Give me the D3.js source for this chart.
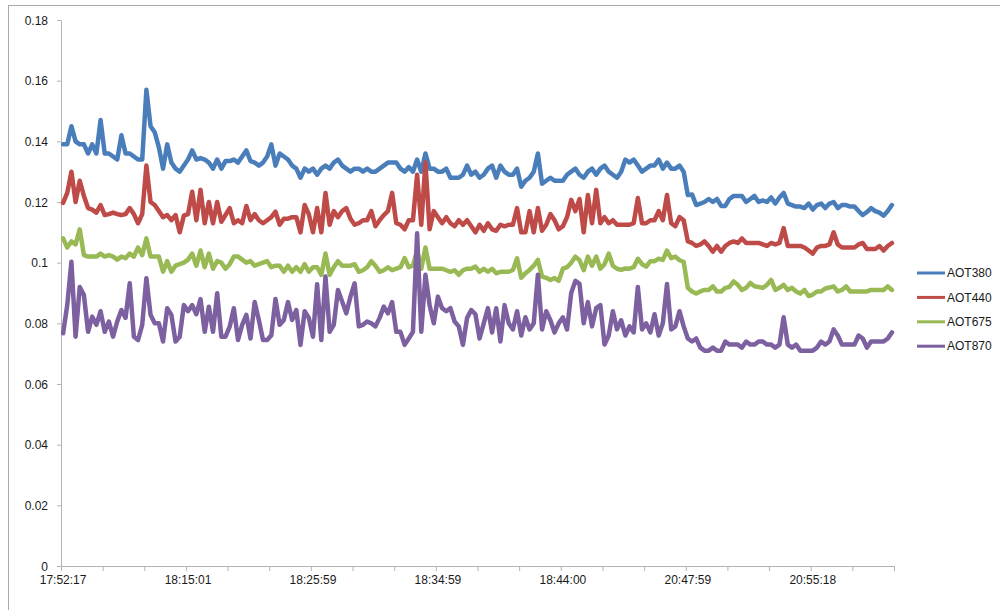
<!DOCTYPE html>
<html>
<head>
	<title>AOT chart</title>
	<style type="text/css">
		body { margin: 0; background: white; }
		svg { display: block; font-family: "Liberation Sans", Arial, sans-serif; }
		.tick text, .x-label, .legend-txt { font-size: 12px; fill: #1a1a1a; }
		.axis path, .axis line { stroke: #b4b4b4; }
		.series { fill: none; stroke-width: 4.5; stroke-linejoin: round; stroke-linecap: round; }
	</style>
</head>
<body>
<svg id="chart"></svg>

<script src="https://d3js.org/d3.v7.min.js"></script>
<script type="text/javascript">

// series names and colours
var names = ["AOT380", "AOT440", "AOT675", "AOT870"];
var colors = ["#4a7ebb", "#be4b48", "#98b954", "#7d60a0"];

// category labels shown on the x axis, and the category index they sit on
var xLabels = ["17:52:17", "18:15:01", "18:25:59", "18:34:59", "18:44:00", "20:47:59", "20:55:18"];
var xLabelIdx = [0, 30, 60, 90, 120, 150, 180];

var yTicks = [0, 0.02, 0.04, 0.06, 0.08, 0.1, 0.12, 0.14, 0.16, 0.18];

var aot380 = [
	0.139, 0.139, 0.145, 0.140, 0.139, 0.139, 0.136, 0.139, 0.136, 0.147,
	0.136, 0.136, 0.135, 0.134, 0.142, 0.136, 0.136, 0.135, 0.134, 0.134,
	0.157, 0.145, 0.143, 0.138, 0.131, 0.139, 0.133, 0.131, 0.130, 0.132,
	0.134, 0.137, 0.134, 0.1345, 0.134, 0.133, 0.131, 0.134, 0.131, 0.1335,
	0.1335, 0.134, 0.133, 0.135, 0.137, 0.1335, 0.133, 0.132, 0.133, 0.135,
	0.139, 0.132, 0.136, 0.135, 0.134, 0.132, 0.131, 0.128, 0.131, 0.130,
	0.131, 0.129, 0.131, 0.132, 0.131, 0.133, 0.134, 0.132, 0.131, 0.130,
	0.131, 0.131, 0.130, 0.131, 0.130, 0.130, 0.131, 0.132, 0.133, 0.133,
	0.133, 0.131, 0.130, 0.1315, 0.130, 0.134, 0.130, 0.136, 0.131, 0.131,
	0.130, 0.130, 0.131, 0.128, 0.128, 0.128, 0.129, 0.132, 0.129, 0.130,
	0.128, 0.129, 0.131, 0.132, 0.128, 0.132, 0.130, 0.129, 0.129, 0.131,
	0.125, 0.127, 0.128, 0.130, 0.136, 0.126, 0.127, 0.128, 0.127, 0.127,
	0.127, 0.129, 0.130, 0.131, 0.129, 0.128, 0.130, 0.131, 0.129, 0.131,
	0.132, 0.130, 0.129, 0.128, 0.130, 0.134, 0.133, 0.134, 0.132, 0.130,
	0.131, 0.132, 0.132, 0.134, 0.131, 0.133, 0.131, 0.131, 0.132, 0.130,
	0.1223, 0.1225, 0.119, 0.1195, 0.120, 0.121, 0.120, 0.121, 0.1187, 0.1187,
	0.121, 0.122, 0.122, 0.122, 0.120, 0.121, 0.122, 0.120, 0.1205, 0.120,
	0.1215, 0.1195, 0.1215, 0.123, 0.1195, 0.119, 0.1185, 0.1185, 0.118, 0.1195,
	0.1175, 0.119, 0.1195, 0.118, 0.1195, 0.120, 0.118, 0.119, 0.119, 0.1185,
	0.1185, 0.117, 0.1157, 0.1167, 0.118, 0.117, 0.1165, 0.1155, 0.117, 0.119
];

var aot440 = [
	0.1197, 0.123, 0.130, 0.120, 0.127, 0.122, 0.118, 0.1175, 0.1165, 0.119,
	0.1157, 0.116, 0.1165, 0.116, 0.1157, 0.116, 0.118, 0.116, 0.113, 0.116,
	0.132, 0.120, 0.119, 0.117, 0.115, 0.1157, 0.114, 0.1157, 0.110, 0.1155,
	0.116, 0.1234, 0.114, 0.124, 0.113, 0.120, 0.113, 0.120, 0.1135, 0.1157,
	0.118, 0.113, 0.114, 0.113, 0.1187, 0.114, 0.116, 0.114, 0.113, 0.114,
	0.115, 0.1168, 0.1125, 0.1145, 0.1145, 0.115, 0.115, 0.110, 0.119, 0.116,
	0.110, 0.118, 0.110, 0.123, 0.1125, 0.117, 0.115, 0.117, 0.118, 0.1145,
	0.1125, 0.113, 0.114, 0.114, 0.117, 0.112, 0.114, 0.1157, 0.117, 0.123,
	0.113, 0.1125, 0.111, 0.114, 0.114, 0.129, 0.1125, 0.133, 0.111, 0.117,
	0.115, 0.113, 0.115, 0.113, 0.112, 0.114, 0.1125, 0.114, 0.112, 0.110,
	0.1125, 0.1105, 0.113, 0.111, 0.1105, 0.1125, 0.112, 0.1125, 0.1125, 0.118,
	0.110, 0.110, 0.117, 0.110, 0.118, 0.1105, 0.1125, 0.116, 0.114, 0.111,
	0.112, 0.115, 0.1207, 0.117, 0.121, 0.110, 0.1223, 0.113, 0.124, 0.113,
	0.115, 0.113, 0.114, 0.1125, 0.1125, 0.1125, 0.1125, 0.113, 0.1213, 0.113,
	0.113, 0.114, 0.114, 0.117, 0.114, 0.1223, 0.113, 0.112, 0.115, 0.114,
	0.107, 0.1065, 0.1055, 0.106, 0.107, 0.1055, 0.1036, 0.1055, 0.1036, 0.1055,
	0.1065, 0.107, 0.1065, 0.108, 0.1065, 0.1065, 0.1065, 0.1065, 0.106, 0.1055,
	0.1065, 0.106, 0.1065, 0.1114, 0.1055, 0.1055, 0.1055, 0.1055, 0.105, 0.104,
	0.103, 0.105, 0.1055, 0.1055, 0.106, 0.110, 0.106, 0.105, 0.105, 0.105,
	0.105, 0.106, 0.1065, 0.1045, 0.1045, 0.1045, 0.1055, 0.104, 0.1055, 0.1065
];

var aot675 = [
	0.108, 0.105, 0.107, 0.106, 0.111, 0.1025, 0.102, 0.102, 0.102, 0.103,
	0.102, 0.1025, 0.102, 0.101, 0.102, 0.1015, 0.103, 0.102, 0.105, 0.1025,
	0.108, 0.102, 0.102, 0.102, 0.097, 0.1005, 0.097, 0.099, 0.0995, 0.100,
	0.101, 0.103, 0.099, 0.104, 0.0985, 0.103, 0.098, 0.1005, 0.100, 0.098,
	0.0995, 0.102, 0.102, 0.101, 0.100, 0.1005, 0.099, 0.0995, 0.100, 0.1005,
	0.0985, 0.099, 0.099, 0.097, 0.099, 0.097, 0.0985, 0.097, 0.0995, 0.097,
	0.0985, 0.0985, 0.096, 0.103, 0.096, 0.0985, 0.1005, 0.099, 0.099, 0.099,
	0.0995, 0.097, 0.0975, 0.0985, 0.1005, 0.099, 0.097, 0.0975, 0.0985, 0.0975,
	0.098, 0.0985, 0.1015, 0.0985, 0.099, 0.104, 0.098, 0.105, 0.098, 0.098,
	0.098, 0.098, 0.0975, 0.097, 0.0975, 0.096, 0.0975, 0.098, 0.098, 0.0987,
	0.097, 0.098, 0.097, 0.098, 0.0965, 0.097, 0.097, 0.097, 0.0976, 0.1014,
	0.095, 0.0965, 0.0976, 0.099, 0.1009, 0.0954, 0.095, 0.0943, 0.0949, 0.094,
	0.098, 0.0985, 0.100, 0.102, 0.1008, 0.0975, 0.102, 0.099, 0.102, 0.098,
	0.0995, 0.103, 0.099, 0.098, 0.0976, 0.0981, 0.098, 0.0985, 0.1013, 0.0995,
	0.0987, 0.1005, 0.1005, 0.1013, 0.1009, 0.104, 0.1015, 0.102, 0.1008, 0.1003,
	0.0917, 0.0905, 0.0898, 0.0905, 0.091, 0.091, 0.0922, 0.0905, 0.0905, 0.0917,
	0.092, 0.0938, 0.0927, 0.091, 0.0917, 0.0933, 0.0922, 0.092, 0.0917, 0.0927,
	0.0943, 0.091, 0.0917, 0.0927, 0.091, 0.0917, 0.0905, 0.0898, 0.091, 0.089,
	0.0895, 0.0905, 0.0905, 0.0915, 0.0918, 0.0922, 0.0905, 0.091, 0.0922, 0.0905,
	0.0905, 0.0905, 0.0905, 0.0905, 0.091, 0.091, 0.091, 0.091, 0.0922, 0.091
];

var aot870 = [
	0.0767, 0.086, 0.1003, 0.0756, 0.092, 0.0893, 0.0772, 0.0822, 0.0795, 0.084,
	0.0772, 0.0806, 0.0756, 0.0806, 0.0844, 0.0818, 0.0932, 0.0756, 0.0745, 0.0795,
	0.0949, 0.0828, 0.080, 0.080, 0.074, 0.085, 0.0828, 0.074, 0.0756, 0.086,
	0.084, 0.086, 0.083, 0.088, 0.0772, 0.0855, 0.0772, 0.0899, 0.0756, 0.0756,
	0.0789, 0.085, 0.0745, 0.0795, 0.0828, 0.075, 0.087, 0.0811, 0.0745, 0.0745,
	0.0761, 0.088, 0.0795, 0.0811, 0.087, 0.0811, 0.0844, 0.0729, 0.084, 0.0818,
	0.0756, 0.0929, 0.0745, 0.0954, 0.0772, 0.0795, 0.091, 0.0872, 0.0833, 0.0888,
	0.0932, 0.079, 0.0795, 0.0806, 0.080, 0.079, 0.0818, 0.0855, 0.0833, 0.087,
	0.0772, 0.0772, 0.0729, 0.075, 0.0772, 0.1097, 0.0772, 0.096, 0.086, 0.080,
	0.0888, 0.085, 0.084, 0.085, 0.0806, 0.079, 0.0729, 0.0818, 0.0844, 0.083,
	0.075, 0.080, 0.085, 0.077, 0.085, 0.074, 0.086, 0.080, 0.078, 0.084,
	0.076, 0.082, 0.078, 0.080, 0.096, 0.078, 0.084, 0.081, 0.077, 0.080,
	0.082, 0.078, 0.090, 0.094, 0.093, 0.080, 0.087, 0.079, 0.085, 0.086,
	0.073, 0.076, 0.084, 0.078, 0.081, 0.076, 0.079, 0.077, 0.092, 0.078,
	0.080, 0.077, 0.083, 0.076, 0.080, 0.093, 0.078, 0.079, 0.084, 0.079,
	0.075, 0.074, 0.075, 0.072, 0.071, 0.071, 0.072, 0.071, 0.071, 0.074,
	0.073, 0.073, 0.073, 0.072, 0.074, 0.073, 0.073, 0.074, 0.074, 0.073,
	0.073, 0.072, 0.073, 0.082, 0.073, 0.072, 0.073, 0.071, 0.071, 0.071,
	0.071, 0.072, 0.074, 0.073, 0.074, 0.078, 0.076, 0.073, 0.073, 0.073,
	0.073, 0.076, 0.075, 0.072, 0.074, 0.074, 0.074, 0.074, 0.075, 0.077
];

var seriesData = [aot380, aot440, aot675, aot870];

var W = 1000, H = 610;
var margin = {top: 20, left: 61, right: 106, bottom: 44};

var svg = d3.select("#chart")
	.attr("width", W)
	.attr("height", H);

// chart area frame
svg.append("rect")
	.attr("x", 8.5).attr("y", 5.5)
	.attr("width", W).attr("height", H)
	.attr("fill", "none")
	.attr("stroke", "#a8a8a8");

var n = aot380.length;

// categories are bands: ticks on the borders, points in the middle
var x = d3.scaleLinear().domain([0, n]).range([margin.left, W - margin.right]);
var y = d3.scaleLinear().domain([0, 0.18]).range([H - margin.bottom, margin.top]);

svg.append("g")
	.attr("class", "axis")
	.attr("transform", `translate(${margin.left}, 0)`)
	.call(d3.axisLeft(y).tickValues(yTicks).tickSizeInner(4).tickSizeOuter(0).tickPadding(9)
		.tickFormat(d => String(+d.toFixed(2))))
	.call(g => g.selectAll("text").attr("dy", "0.35em"));

svg.append("g")
	.attr("class", "axis")
	.attr("transform", `translate(0, ${H - margin.bottom})`)
	.call(d3.axisBottom(x).tickValues(d3.range(0, n + 1, 10)).tickSizeInner(5).tickSizeOuter(0).tickFormat(""));

svg.selectAll(".x-label")
	.data(xLabels)
	.enter().append("text")
	.attr("class", "x-label")
	.attr("text-anchor", "middle")
	.attr("x", (d, i) => x(xLabelIdx[i] + 0.5))
	.attr("y", H - margin.bottom + 18)
	.text(d => d);

var line = d3.line()
	.x((d, i) => x(i + 0.5))
	.y(d => y(d));

svg.selectAll(".series")
	.data(seriesData)
	.enter().append("path")
	.attr("class", "series")
	.attr("stroke", (d, i) => colors[i])
	.attr("d", line);

// legend
var legend = svg.selectAll(".legend")
	.data(names)
	.enter().append("g")
	.attr("class", "legend")
	.attr("transform", (d, i) => `translate(917, ${273 + i * 24.4})`);

legend.append("line")
	.attr("x1", 0).attr("x2", 28)
	.attr("stroke", (d, i) => colors[i])
	.attr("stroke-width", 3);

legend.append("text")
	.attr("class", "legend-txt")
	.attr("x", 30)
	.attr("dy", "0.35em")
	.text(d => d);

</script>
</body>
</html>
